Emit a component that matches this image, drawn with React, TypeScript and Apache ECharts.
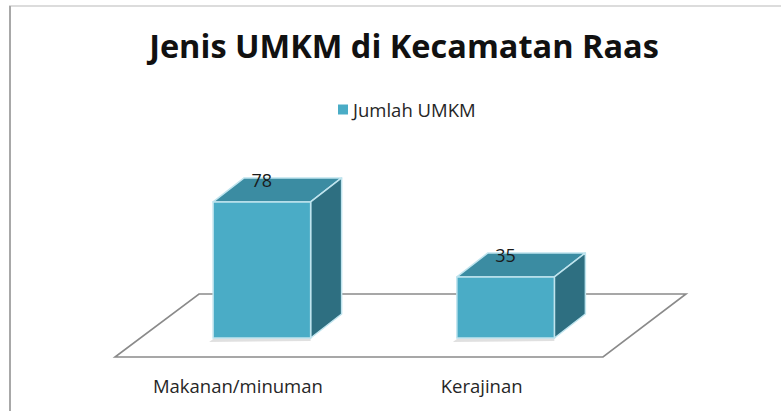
import React, { useEffect, useRef } from "react";
import * as echarts from "echarts";

const categories = ["Makanan/minuman", "Kerajinan"];
const values = [78, 35];
const seriesName = "Jumlah UMKM";
const titleText = "Jenis UMKM di Kecamatan Raas";

const FRONT = "#4aacc6";
const TOP = "#3b8ca2";
const SIDE = "#2e6f81";
const EDGE = "#bfe4ee";
const DX = 31;
const DY = -24;

export default function App() {
  const ref = useRef<HTMLDivElement>(null);
  useEffect(() => {
    if (!ref.current) return;
    const chart = echarts.init(ref.current, undefined, { renderer: "svg" });
    const font = "'Open Sans', 'Noto Sans', sans-serif";
    chart.setOption({
      animation: false,
      backgroundColor: "#ffffff",
      title: {
        text: titleText,
        left: 399,
        top: 24,
        textAlign: "center",
        textStyle: { fontFamily: font, fontWeight: "bold", fontSize: 32.5, color: "#111111" },
      },
      legend: {
        data: [seriesName],
        left: 333,
        top: 95,
        itemWidth: 10,
        itemHeight: 10,
        icon: "rect",
        textStyle: { fontFamily: font, fontSize: 18.5, color: "#262626" },
      },
      grid: { left: 140, width: 487.5, top: 163.6, bottom: 73 },
      xAxis: {
        type: "category",
        data: categories,
        axisLine: { show: false },
        axisTick: { show: false },
        axisLabel: {
          fontFamily: font,
          fontSize: 18.5,
          color: "#262626",
          margin: 38,
          padding: [0, 48, 0, 0],
        },
      },
      yAxis: { type: "value", min: 0, max: 100, show: false, splitLine: { show: false } },
      graphic: [
        {
          type: "polygon",
          z: 0,
          shape: { points: [[115, 357], [603, 357], [686, 294], [199, 294]] },
          style: { fill: "#ffffff", stroke: "#8a8a8a", lineWidth: 1.6 },
        },
        {
          type: "line",
          z: 0,
          shape: { x1: 9, y1: 6, x2: 781, y2: 6 },
          style: { stroke: "#dcdcdc", lineWidth: 2 },
        },
        {
          type: "line",
          z: 0,
          shape: { x1: 10, y1: 6, x2: 10, y2: 411 },
          style: { stroke: "#a8a8a8", lineWidth: 2 },
        },
      ],
      series: [
        {
          name: seriesName,
          type: "custom",
          z: 10,
          itemStyle: { color: FRONT },
          data: values.map((v, i) => [i, v]),
          renderItem: (params: any, api: any) => {
            const base = api.coord([api.value(0), 0]);
            const top = api.coord([api.value(0), api.value(1)]);
            const bw = api.size([1, 0])[0] * 0.4;
            const L = base[0] - bw / 2;
            const R = base[0] + bw / 2;
            const T = top[1];
            const B = base[1];
            return {
              type: "group",
              children: [
                {
                  type: "polygon",
                  shape: { points: [[L + 4, B - 2], [R, B - 2], [R, B + 3], [L - 4, B + 4]] },
                  style: { fill: "rgba(0,0,0,0.12)" },
                },
                {
                  type: "polygon",
                  shape: { points: [[L, T], [R, T], [R + DX, T + DY], [L + DX, T + DY]] },
                  style: { fill: TOP, stroke: EDGE, lineWidth: 1.5, lineJoin: "round" },
                },
                {
                  type: "polygon",
                  shape: { points: [[R, T], [R + DX, T + DY], [R + DX, B + DY], [R, B]] },
                  style: { fill: SIDE, stroke: EDGE, lineWidth: 1.5, lineJoin: "round" },
                },
                {
                  type: "rect",
                  shape: { x: L, y: T, width: R - L, height: B - T },
                  style: { fill: FRONT, stroke: EDGE, lineWidth: 1.5 },
                },
                {
                  type: "text",
                  style: {
                    x: base[0],
                    y: T - 22,
                    text: String(api.value(1)),
                    fill: "#1a1a1a",
                    font: "18px 'Open Sans', 'Noto Sans', sans-serif",
                    align: "center",
                    verticalAlign: "middle",
                  },
                },
              ],
            };
          },
        },
      ],
    });
    return () => chart.dispose();
  }, []);
  return (
    <div
      ref={ref}
      style={{ position: "fixed", left: 0, top: 0, width: 781, height: 411, background: "#fff" }}
    />
  );
}
